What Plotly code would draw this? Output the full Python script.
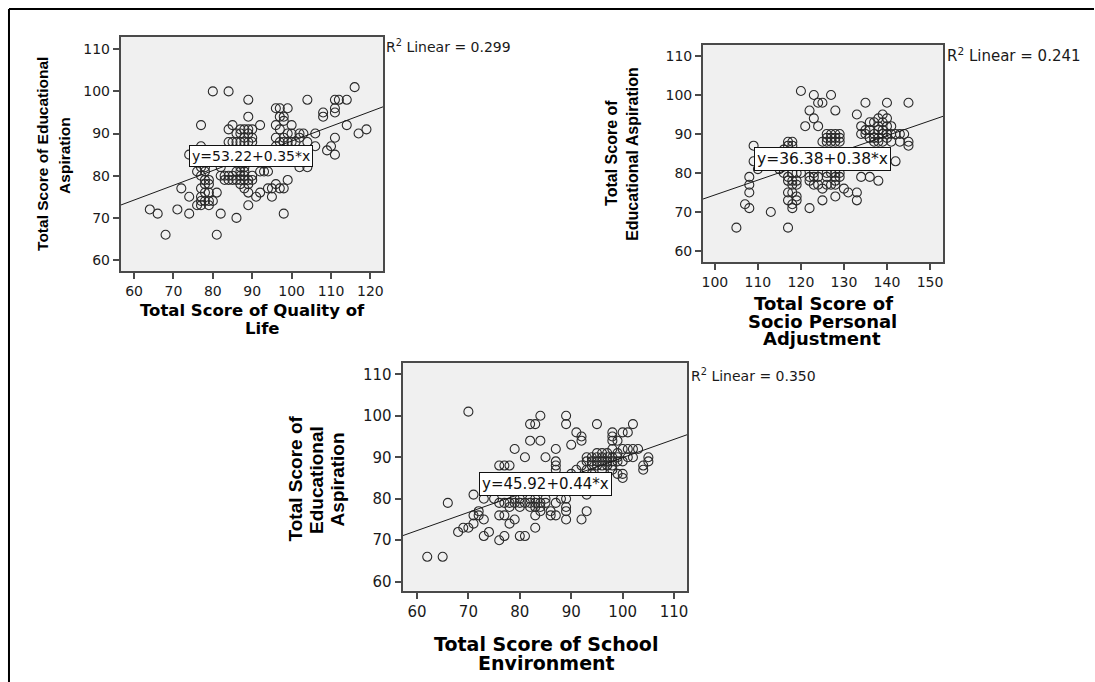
import plotly.graph_objects as go

W, H = 1095, 682

# ---------------- data ----------------
# Panel 1: Total Score of Quality of Life (x) vs Educational Aspiration (y)
qol_pairs = [
    (64, 72), (66, 71), (68, 66), (71, 72), (72, 77), (74, 75), (74, 71), (74, 85),
    (76, 81), (76, 73), (77, 92), (77, 87), (77, 86), (77, 84), (77, 82), (77, 80), (77, 77),
    (77, 75), (77, 74), (77, 73), (78, 82), (78, 81), (78, 79), (78, 78), (78, 76), (78, 74),
    (79, 79), (79, 78), (79, 76), (79, 74), (79, 73), (80, 74), (80, 100), (81, 76), (81, 66),
    (82, 82), (82, 80), (82, 71), (83, 80), (83, 79), (84, 100), (84, 91), (84, 88), (84, 80),
    (84, 79), (85, 92), (85, 88), (85, 80), (85, 79), (86, 90), (86, 88), (86, 81), (86, 79),
    (86, 70), (87, 91), (87, 90), (87, 88), (87, 82), (87, 81), (87, 80), (87, 79), (87, 78),
    (88, 91), (88, 89), (88, 88), (88, 83), (88, 82), (88, 81), (88, 80), (88, 79), (88, 77),
    (89, 98), (89, 94), (89, 91), (89, 90), (89, 88), (89, 79), (89, 78), (89, 76), (89, 73),
    (90, 91), (90, 89), (90, 88), (90, 80), (90, 79), (91, 75), (92, 92), (92, 81), (92, 76),
    (93, 81), (93, 83), (94, 81), (94, 77), (95, 77), (95, 75), (96, 96), (96, 92), (96, 89),
    (96, 87), (96, 78), (97, 96), (97, 94), (97, 91), (97, 88), (97, 77), (98, 94), (98, 93),
    (98, 89), (98, 88), (98, 77), (98, 71), (99, 96), (99, 90), (99, 88), (99, 79), (100, 92),
    (100, 90), (100, 88), (101, 88), (102, 90), (102, 89), (102, 82), (103, 90), (104, 98),
    (104, 88), (104, 84), (104, 82), (106, 90), (106, 87), (108, 95), (108, 94), (109, 86),
    (110, 87), (111, 98), (111, 96), (111, 95), (111, 89), (111, 85), (112, 98), (114, 98),
    (114, 92), (116, 101), (117, 90), (119, 91),
]

# Panel 2: Total Score of Socio Personal Adjustment (x) vs Educational Aspiration (y)
spa_pairs = [
    (105, 66), (117, 66), (107, 72), (108, 71), (113, 70), (108, 75), (108, 77), (108, 79),
    (110, 81), (109, 83), (109, 87), (115, 81), (116, 86), (116, 80), (117, 88), (117, 87),
    (117, 85), (117, 79), (117, 78), (117, 75), (117, 73), (118, 88), (118, 87), (118, 80),
    (118, 78), (118, 77), (118, 75), (118, 72), (118, 71), (119, 80), (119, 78), (119, 77),
    (119, 74), (119, 73), (120, 101), (120, 80), (121, 92), (122, 96), (122, 79), (122, 78),
    (122, 71), (123, 100), (123, 94), (123, 80), (123, 79), (123, 77), (124, 98), (124, 92),
    (124, 79), (124, 77), (125, 98), (125, 88), (125, 76), (125, 73), (126, 90), (126, 89),
    (126, 88), (126, 80), (126, 79), (126, 77), (127, 100), (127, 90), (127, 89), (127, 88),
    (127, 80), (127, 77), (128, 74), (128, 96), (128, 90), (128, 89), (128, 88), (128, 80),
    (128, 79), (128, 78), (128, 77), (129, 90), (129, 89), (129, 88), (129, 85), (129, 80),
    (129, 79), (130, 76), (131, 75), (133, 75), (133, 95), (133, 73), (134, 92), (134, 90),
    (134, 79), (135, 98), (135, 91), (135, 90), (136, 93), (136, 91), (136, 89), (136, 79),
    (137, 93), (137, 90), (137, 89), (137, 88), (138, 94), (138, 92), (138, 91), (138, 89),
    (138, 88), (138, 78), (139, 95), (139, 93), (139, 91), (139, 90), (139, 88), (140, 98),
    (140, 94), (140, 92), (140, 90), (140, 89), (141, 92), (141, 90), (141, 88), (142, 90),
    (142, 83), (143, 90), (143, 88), (144, 90), (145, 98), (145, 88), (145, 87),
]

# Panel 3: Total Score of School Environment (x) vs Educational Aspiration (y)
sch_pairs = [
    (62, 66), (65, 66), (66, 79), (68, 72), (69, 73), (70, 101), (70, 73), (71, 76), (71, 74),
    (71, 81), (72, 77), (72, 76), (73, 80), (73, 75), (73, 71), (74, 72), (75, 80), (76, 88),
    (76, 79), (76, 70), (76, 76), (77, 88), (77, 79), (77, 76), (77, 71), (78, 88), (78, 79),
    (78, 78), (78, 74), (79, 92), (79, 80), (79, 79), (79, 75), (80, 80), (80, 79), (80, 78),
    (80, 71), (81, 90), (81, 79), (81, 71), (82, 98), (82, 94), (82, 80), (82, 79), (82, 78),
    (83, 98), (83, 80), (83, 79), (83, 78), (83, 76), (83, 73), (84, 100), (84, 94), (84, 79),
    (84, 78), (84, 77), (85, 90), (85, 80), (85, 79), (86, 76), (86, 77), (87, 92), (87, 89),
    (87, 88), (87, 87), (87, 79), (87, 76), (88, 80), (88, 84), (89, 100), (89, 98), (89, 80),
    (89, 78), (89, 77), (89, 75), (90, 93), (90, 86), (91, 96), (91, 87), (92, 95), (92, 94),
    (92, 88), (92, 75), (93, 89), (93, 90), (93, 87), (93, 77), (93, 81), (94, 90), (94, 89),
    (94, 88), (94, 86), (95, 98), (95, 91), (95, 90), (95, 89), (95, 88), (96, 91), (96, 90),
    (96, 89), (96, 88), (96, 87), (97, 91), (97, 90), (97, 89), (97, 88), (98, 96), (98, 95),
    (98, 94), (98, 92), (98, 90), (98, 89), (98, 88), (98, 87), (99, 94), (99, 91), (99, 90),
    (99, 89), (99, 86), (100, 96), (100, 92), (100, 89), (100, 85), (100, 86), (101, 96),
    (101, 92), (101, 90), (102, 98), (102, 92), (102, 90), (103, 92), (104, 88), (104, 87),
    (105, 90), (105, 89),
]

fit_intercepts = [53.22, 36.38, 45.92]
fit_slopes = [0.35, 0.38, 0.44]
r2_labels = ["0.299", "0.241", "0.350"]
equation_labels = ["y=53.22+0.35*x", "y=36.38+0.38*x", "y=45.92+0.44*x"]
x_ticks_qol = [60, 70, 80, 90, 100, 110, 120]
x_ticks_spa = [100, 110, 120, 130, 140, 150]
x_ticks_sch = [60, 70, 80, 90, 100, 110]
y_ticks = [60, 70, 80, 90, 100, 110]

x_title_lines = [
    ["Total Score of Quality of", "Life"],
    ["Total Score of", "Socio Personal", "Adjustment"],
    ["Total Score of School", "Environment"],
]
y_title_lines = [
    ["Total Score of Educational", "Aspiration"],
    ["Total Score of", "Educational Aspiration"],
    ["Total Score of", "Educational", "Aspiration"],
]

# ---------------- layout (pixels) ----------------
def px(x):
    return x / W


def py(y):
    return 1 - y / H


panels = [
    dict(pairs=qol_pairs, ticks=x_ticks_qol, box=(120, 37, 382.7, 271),
         xr=(56.63, 123.2), yr=(57.4, 112.9), tick_size=14,
         eq_pos=(89.8, 84.6), eq_size=14,
         r2_pos=(384, 46), r2_size=14,
         xt_pos=[(251.7, 310.5), (262, 328.5)], xt_size=16.5,
         yt_pos=[(41.5, 153.5), (63.5, 155.5)], yt_size=15.5),
    dict(pairs=spa_pairs, ticks=x_ticks_spa, box=(703.3, 45, 944, 262),
         xr=(97.24, 153.09), yr=(57.2, 112.8), tick_size=14,
         eq_pos=(125.1, 83.6), eq_size=15.5,
         r2_pos=(946, 55), r2_size=15,
         xt_pos=[(824, 303.5), (823, 321), (822.5, 338.5)], xt_size=18,
         yt_pos=[(611, 153), (632.5, 153.5)], yt_size=16),
    dict(pairs=sch_pairs, ticks=x_ticks_sch, box=(402.3, 362.7, 687.7, 590.7),
         xr=(57.2, 112.6), yr=(57.83, 112.8), tick_size=15,
         eq_pos=(85.0, 83.6), eq_size=15,
         r2_pos=(689, 375), r2_size=14,
         xt_pos=[(546, 644), (546, 663)], xt_size=19,
         yt_pos=[(295, 478), (315.5, 480), (337, 479)], yt_size=19),
]

fig = go.Figure()
annotations = []
layout_axes = {}

for i, p in enumerate(panels):
    xa = "x" if i == 0 else f"x{i + 1}"
    ya = "y" if i == 0 else f"y{i + 1}"
    xs = [pt[0] for pt in p["pairs"]]
    ys = [pt[1] for pt in p["pairs"]]
    fig.add_trace(go.Scatter(
        x=xs, y=ys, mode="markers", xaxis=xa, yaxis=ya, showlegend=False,
        hoverinfo="skip",
        marker=dict(symbol="circle-open", size=9, color="#2a2a2a",
                    line=dict(width=1.1, color="#2a2a2a")),
    ))
    x0, x1 = p["xr"]
    a, b = fit_intercepts[i], fit_slopes[i]
    fig.add_trace(go.Scatter(
        x=[x0, x1], y=[a + b * x0, a + b * x1], mode="lines", xaxis=xa, yaxis=ya,
        showlegend=False, hoverinfo="skip",
        line=dict(color="#1a1a1a", width=1),
    ))

    left, top, right, bottom = p["box"]
    common = dict(showgrid=False, zeroline=False, showline=True, mirror=True,
                  linecolor="#4a4a4a", linewidth=2, ticks="outside", ticklen=6,
                  tickwidth=1.5, tickcolor="#4a4a4a", fixedrange=True,
                  tickfont=dict(family="DejaVu Sans", size=p["tick_size"], color="#1a1a1a"))
    xkey = "xaxis" if i == 0 else f"xaxis{i + 1}"
    ykey = "yaxis" if i == 0 else f"yaxis{i + 1}"
    layout_axes[xkey] = dict(common, domain=[px(left), px(right)], range=list(p["xr"]),
                             tickvals=p["ticks"], anchor=ya)
    layout_axes[ykey] = dict(common, domain=[py(bottom), py(top)], range=list(p["yr"]),
                             tickvals=y_ticks, anchor=xa)

    # equation box
    annotations.append(dict(
        x=p["eq_pos"][0], y=p["eq_pos"][1], xref=xa, yref=ya, text=equation_labels[i],
        showarrow=False, bgcolor="white", bordercolor="#111111", borderwidth=1,
        borderpad=2, font=dict(family="DejaVu Sans", size=p["eq_size"], color="#111111"),
    ))
    # R^2 label
    annotations.append(dict(
        x=px(p["r2_pos"][0]), y=py(p["r2_pos"][1]), xref="paper", yref="paper",
        xanchor="left", yanchor="middle", showarrow=False,
        text=f"R<sup>2</sup> Linear = {r2_labels[i]}",
        font=dict(family="DejaVu Sans", size=p["r2_size"], color="#1a1a1a"),
    ))
    # x title lines
    for line, (cx, cy) in zip(x_title_lines[i], p["xt_pos"]):
        annotations.append(dict(
            x=px(cx), y=py(cy), xref="paper", yref="paper", xanchor="center",
            yanchor="middle", showarrow=False, text=f"<b>{line}</b>",
            font=dict(family="DejaVu Sans", size=p["xt_size"], color="#000000"),
        ))
    # y title lines
    for line, (cx, cy) in zip(y_title_lines[i], p["yt_pos"]):
        annotations.append(dict(
            x=px(cx), y=py(cy), xref="paper", yref="paper", xanchor="center",
            yanchor="middle", showarrow=False, textangle=-90, text=f"<b>{line}</b>",
            font=dict(family="Liberation Sans", size=p["yt_size"], color="#000000"),
        ))

shapes = [
    dict(type="line", xref="paper", yref="paper", x0=px(8), y0=py(9), x1=1, y1=py(9),
         line=dict(color="#000000", width=2)),
    dict(type="line", xref="paper", yref="paper", x0=px(8), y0=py(9), x1=px(8), y1=0,
         line=dict(color="#000000", width=2)),
]

fig.update_layout(
    width=W, height=H, autosize=False,
    margin=dict(l=0, r=0, t=0, b=0),
    paper_bgcolor="white", plot_bgcolor="#f0f0f0",
    annotations=annotations, shapes=shapes,
    **layout_axes,
)

fig.write_html("out.html")
